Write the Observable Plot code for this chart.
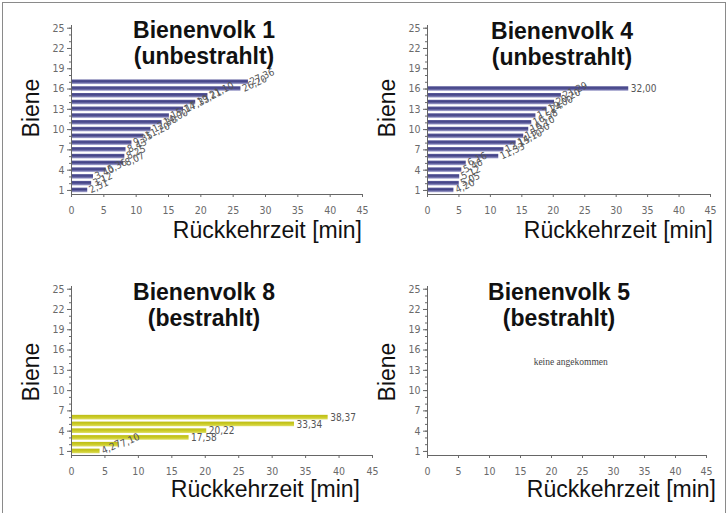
<!DOCTYPE html>
<html>
<head>
<meta charset="utf-8">
<script src="https://cdn.jsdelivr.net/npm/d3@7"></script>
<script src="https://cdn.jsdelivr.net/npm/@observablehq/plot@0.6"></script>
<style>
  body { margin: 0; background: #fff; }
  #wrap { position: relative; width: 728px; height: 513px; overflow: hidden; background: #fff;
          font-family: "Liberation Sans", Arial, sans-serif; }
  #wrap svg { position: absolute; overflow: visible; }
  .t { position: absolute; white-space: nowrap; line-height: 0.8; color: #111; }
  #frame { position: absolute; left: 2px; top: 2px; width: 722px; height: 530px; border: 1px solid #8a8a8a; }
</style>
</head>
<body>
<div id="wrap"><div id="frame"></div></div>
<script>
// ---- data ----
const xTicks = [0, 5, 10, 15, 20, 25, 30, 35, 40, 45];
const yTicks = [1, 4, 7, 10, 13, 16, 19, 22, 25];
const titles = ["Bienenvolk 1", "Bienenvolk 4", "Bienenvolk 8", "Bienenvolk 5"];
const subtitles = ["(unbestrahlt)", "(unbestrahlt)", "(bestrahlt)", "(bestrahlt)"];
const volk1Times = [2.51, 3.12, 3.40, 5.36, 8.07, 8.25, 8.43, 9.35, 11.20, 12.30, 14.00, 15.14, 17.33, 19.21, 21.10, 26.20, 27.36];
const volk4Times = [4.20, 5.05, 5.12, 5.46, 6.16, 11.33, 12.15, 14.10, 15.30, 16.10, 16.58, 17.24, 19.00, 20.20, 21.29, 32.00];
const volk8Times = [4.27, 7.10, 17.58, 20.22, 33.34, 38.37];
const volk5Times = [];
const xTitle = "Rückkehrzeit [min]";
const yTitle = "Biene";
const noteText = "keine angekommen";

// ---- layout ----
const narrow = '"Liberation Sans Narrow", "DejaVu Sans Condensed", "Liberation Sans", Arial, sans-serif';
const wrap = document.getElementById("wrap");

const panels = [
  {times: volk1Times, k: 0, grad: "gBlue",   left: 0,   top: 0,   width: 364, height: 222, mL: 71, mR: 2,  mT: 25, mB: 28, pad: 9,
   tx: 204, ty: 38,  sy: 64,  xr: 362, xy: 238, yx: 31,  yy: 108},
  {times: volk4Times, k: 1, grad: "gBlue",   left: 364, top: 0,   width: 364, height: 222, mL: 63, mR: 18, mT: 25, mB: 28, pad: 9,
   tx: 562, ty: 39,  sy: 65,  xr: 713, xy: 238, yx: 387, yy: 108},
  {times: volk8Times, k: 2, grad: "gYellow", left: 0,   top: 256, width: 380, height: 222, mL: 71, mR: 8,  mT: 30, mB: 23, pad: 9,
   tx: 204, ty: 300, sy: 326, xr: 360, xy: 497, yx: 31,  yy: 372},
  {times: volk5Times, k: 3, grad: "gBlue",   left: 364, top: 256, width: 364, height: 222, mL: 63, mR: 22, mT: 30, mB: 23, pad: 9,
   tx: 559, ty: 300, sy: 326, xr: 716, xy: 497, yx: 387, yy: 372, note: true}
];

function fmt(v) { return v.toFixed(2).replace(".", ","); }
// crowded labels (close neighbours, short bars) are tilted as in the reference
function tilt(times, i) {
  const v = times[i];
  const prev = i > 0 ? v - times[i - 1] : Infinity;
  const next = i < times.length - 1 ? times[i + 1] - v : Infinity;
  return (v < 10 || prev < 2.5 || next < 2.5) ? -25 : 0;
}

function addText(str, x, baseline, size, opts = {}) {
  const d = document.createElement("div");
  d.className = "t";
  d.textContent = str;
  d.style.fontSize = size + "px";
  if (opts.bold) d.style.fontWeight = "bold";
  if (opts.rotate) {
    d.style.left = x + "px";
    d.style.top = baseline + "px";
    d.style.transform = "translate(-50%,-50%) rotate(-90deg)";
  } else {
    d.style.left = x + "px";
    d.style.top = (baseline - 0.7465 * size) + "px";
    d.style.transform = opts.anchor === "end" ? "translateX(-100%)" : "translateX(-50%)";
  }
  wrap.appendChild(d);
}

function addGradients(svg) {
  const defs = d3.select(svg).insert("defs", ":first-child");
  const gb = defs.append("linearGradient").attr("id", "gBlue").attr("x1", 0).attr("y1", 0).attr("x2", 0).attr("y2", 1);
  gb.append("stop").attr("offset", "0%").attr("stop-color", "#5c5c9c");
  gb.append("stop").attr("offset", "40%").attr("stop-color", "#434386");
  gb.append("stop").attr("offset", "70%").attr("stop-color", "#6a6aa6");
  gb.append("stop").attr("offset", "100%").attr("stop-color", "#b6b6da");
  const gy = defs.append("linearGradient").attr("id", "gYellow").attr("x1", 0).attr("y1", 0).attr("x2", 0).attr("y2", 1);
  gy.append("stop").attr("offset", "0%").attr("stop-color", "#bcbc14");
  gy.append("stop").attr("offset", "55%").attr("stop-color", "#cccc28");
  gy.append("stop").attr("offset", "100%").attr("stop-color", "#dede66");
}

for (const p of panels) {
  const rows = p.times.map((t, i) => ({bee: i + 1, time: t, rot: tilt(p.times, i)}));
  const marks = [
    Plot.rect(rows, {x1: d => 0, x2: "time", y1: d => d.bee - 0.34, y2: d => d.bee + 0.34, fill: `url(#${p.grad})`}),
    Plot.text(rows, {x: "time", y: "bee", text: d => fmt(d.time), rotate: "rot", textAnchor: "start", dx: 2,
                     fill: "#555", fontSize: 10, fontFamily: narrow}),
    Plot.axisY({ticks: d3.range(1, 26), tickSize: 2, tickFormat: () => "", label: null}),
    Plot.axisY({ticks: yTicks, tickSize: 4, tickPadding: 3, label: null, fontSize: 10.5}),
    Plot.axisX({ticks: xTicks, tickSize: 3, tickPadding: p.pad, label: null, fontSize: 10.5}),
    Plot.ruleX([0], {stroke: "#666"}),
    Plot.ruleY([0.4], {stroke: "#666"})
  ];
  if (p.note) {
    marks.push(Plot.text([noteText], {x: () => 23.1, y: () => 14.3, text: d => d, fontSize: 9.5,
      fill: "#444", fontFamily: '"Liberation Serif", "DejaVu Serif", serif'}));
  }
  const svg = Plot.plot({
    width: p.width, height: p.height,
    marginLeft: p.mL, marginRight: p.mR, marginTop: p.mT, marginBottom: p.mB,
    x: {domain: [0, 45], label: null},
    y: {domain: [0.4, 25.4], label: null},
    style: {background: "transparent", color: "#6a6a6a", fontFamily: narrow, fontSize: "11px", overflow: "visible"},
    marks
  });
  addGradients(svg);
  svg.style.left = p.left + "px";
  svg.style.top = p.top + "px";
  svg.style.maxWidth = "none";
  wrap.appendChild(svg);

  addText(titles[p.k], p.tx, p.ty, 23, {bold: true});
  addText(subtitles[p.k], p.tx, p.sy, 23, {bold: true});
  addText(xTitle, p.xr, p.xy, 23, {anchor: "end"});
  addText(yTitle, p.yx, p.yy, 23, {rotate: true});
}
</script>
</body>
</html>
